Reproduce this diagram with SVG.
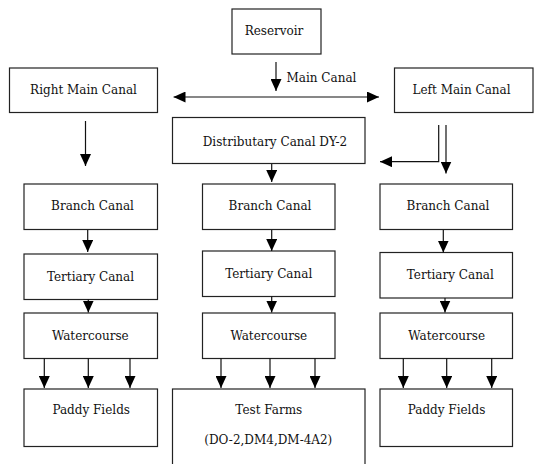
<svg xmlns="http://www.w3.org/2000/svg" width="534" height="464" viewBox="0 0 534 464">
<style>
.box{fill:#fff;stroke:#222;stroke-width:1.2}
.t{font-family:"DejaVu Serif","Liberation Serif",serif;font-size:12px;fill:#111;text-anchor:middle}
.c{fill:none;stroke:#111;stroke-width:1.2}
</style>
<defs>
<marker id="ah" viewBox="0 0 12 11" refX="12" refY="5.5" markerWidth="12" markerHeight="11" orient="auto-start-reverse" markerUnits="userSpaceOnUse">
<path d="M0,0 L12,5.5 L0,11 z" fill="#000"/>
</marker>
</defs>
<rect width="534" height="464" fill="#fff"/>
<g id="reservoir"><rect class="box" x="232" y="9" width="89" height="45"/><text class="t" x="274" y="34.5">Reservoir</text></g>
<g id="right-main"><rect class="box" x="9.5" y="68" width="148" height="44.5"/><text class="t" x="83.5" y="93.5">Right Main Canal</text></g>
<g id="left-main"><rect class="box" x="394.5" y="68" width="138.5" height="44.5"/><text class="t" x="461.5" y="93.5">Left Main Canal</text></g>
<g id="distributary"><rect class="box" x="172.5" y="117.5" width="192.5" height="46"/><text class="t" x="275" y="146">Distributary Canal DY-2</text></g>
<g id="branch-l"><rect class="box" x="24" y="184" width="133.5" height="45.5"/><text class="t" x="92.5" y="210">Branch Canal</text></g>
<g id="branch-m"><rect class="box" x="202.5" y="184" width="132.5" height="45.5"/><text class="t" x="270" y="210">Branch Canal</text></g>
<g id="branch-r"><rect class="box" x="380" y="184" width="132.5" height="45.5"/><text class="t" x="448" y="210">Branch Canal</text></g>
<g id="tertiary-l"><rect class="box" x="24" y="254" width="133.5" height="45.5"/><text class="t" x="90.5" y="281">Tertiary Canal</text></g>
<g id="tertiary-m"><rect class="box" x="202.5" y="251" width="132.5" height="45.5"/><text class="t" x="268.7" y="277.5">Tertiary Canal</text></g>
<g id="tertiary-r"><rect class="box" x="380" y="252.5" width="132.5" height="45.5"/><text class="t" x="450.3" y="278.5">Tertiary Canal</text></g>
<g id="water-l"><rect class="box" x="24" y="313" width="133.5" height="45.5"/><text class="t" x="90.3" y="339.5">Watercourse</text></g>
<g id="water-m"><rect class="box" x="202.5" y="313" width="132.5" height="45.5"/><text class="t" x="268.8" y="339.5">Watercourse</text></g>
<g id="water-r"><rect class="box" x="380" y="313" width="132.5" height="45.5"/><text class="t" x="446.7" y="339.5">Watercourse</text></g>
<g id="paddy-l"><rect class="box" x="24" y="389" width="133.5" height="57.5"/><text class="t" x="91.2" y="414">Paddy Fields</text></g>
<g id="test-farms"><rect class="box" x="172.5" y="389" width="192.5" height="80"/><text class="t" x="268.8" y="414">Test Farms</text><text class="t" x="268.3" y="444">(DO-2,DM4,DM-4A2)</text></g>
<g id="paddy-r"><rect class="box" x="380" y="389" width="132.5" height="57.5"/><text class="t" x="446.5" y="414">Paddy Fields</text></g>
<g id="connectors">
<line class="c" x1="276" y1="62" x2="276" y2="91" marker-end="url(#ah)"/>
<text class="t" x="321.5" y="82">Main Canal</text>
<line class="c" x1="173.5" y1="97" x2="379" y2="97" marker-start="url(#ah)" marker-end="url(#ah)"/>
<line class="c" x1="85.5" y1="121" x2="85.5" y2="166" marker-end="url(#ah)"/>
<line class="c" x1="271.7" y1="164" x2="271.7" y2="182" marker-end="url(#ah)"/>
<path class="c" d="M438.7,125 V161.7 H380" marker-end="url(#ah)"/>
<line class="c" x1="446" y1="125" x2="446" y2="173.5" marker-end="url(#ah)"/>
<line class="c" x1="87.7" y1="230" x2="87.7" y2="252" marker-end="url(#ah)"/>
<line class="c" x1="271.7" y1="230" x2="271.7" y2="251" marker-end="url(#ah)"/>
<line class="c" x1="443.3" y1="230" x2="443.3" y2="252.5" marker-end="url(#ah)"/>
<line class="c" x1="88.3" y1="299.5" x2="88.3" y2="312.5" marker-end="url(#ah)"/>
<line class="c" x1="271.7" y1="296.5" x2="271.7" y2="312.5" marker-end="url(#ah)"/>
<line class="c" x1="445" y1="298" x2="445" y2="312.5" marker-end="url(#ah)"/>
<line class="c" x1="44.3" y1="358.5" x2="44.3" y2="388" marker-end="url(#ah)"/>
<line class="c" x1="88.3" y1="358.5" x2="88.3" y2="388" marker-end="url(#ah)"/>
<line class="c" x1="130" y1="358.5" x2="130" y2="388" marker-end="url(#ah)"/>
<line class="c" x1="221" y1="358.5" x2="221" y2="388" marker-end="url(#ah)"/>
<line class="c" x1="270" y1="358.5" x2="270" y2="388" marker-end="url(#ah)"/>
<line class="c" x1="315" y1="358.5" x2="315" y2="388" marker-end="url(#ah)"/>
<line class="c" x1="403.3" y1="358.5" x2="403.3" y2="388" marker-end="url(#ah)"/>
<line class="c" x1="446.7" y1="358.5" x2="446.7" y2="388" marker-end="url(#ah)"/>
<line class="c" x1="491.7" y1="358.5" x2="491.7" y2="388" marker-end="url(#ah)"/>
</g>
</svg>
